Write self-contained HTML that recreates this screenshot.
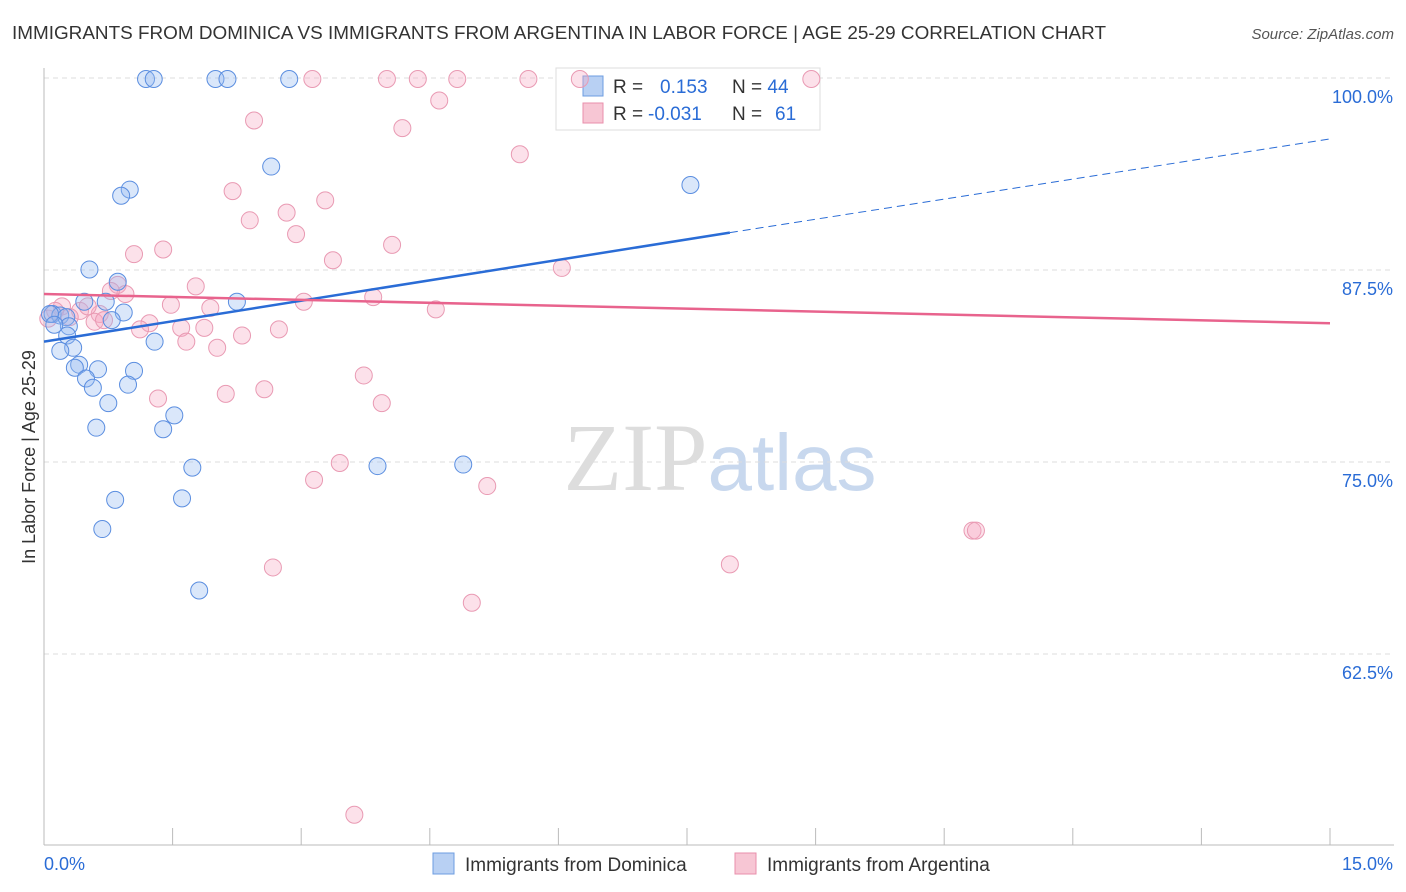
<!DOCTYPE html>
<html><head><meta charset="utf-8"><style>
body{margin:0;background:#fff;font-family:"Liberation Sans",sans-serif}
svg{display:block}
</style></head><body>
<svg id="c" width="1406" height="892" xmlns="http://www.w3.org/2000/svg">
<text x="12" y="39" font-size="18" fill="#333" textLength="1094" lengthAdjust="spacingAndGlyphs">IMMIGRANTS FROM DOMINICA VS IMMIGRANTS FROM ARGENTINA IN LABOR FORCE | AGE 25-29 CORRELATION CHART</text>
<text x="1394" y="39" font-size="15" fill="#555" font-style="italic" text-anchor="end">Source: ZipAtlas.com</text>
<text x="720" y="490" font-size="96" fill="#ddd" text-anchor="middle" font-family="Liberation Serif,serif">ZIP<tspan fill="#c8d8ee" font-family="Liberation Sans,sans-serif" font-size="80">atlas</tspan></text>
<g id="grid"></g>
<g id="axes"></g>
<g>
<rect x="556" y="68" width="264" height="62" fill="#fff" stroke="#ddd"/>
<rect x="583" y="76" width="20" height="20" fill="#b8d0f3" stroke="#6d9de0"/>
<text x="613" y="93" font-size="19" fill="#333">R = <tspan fill="#2a6cd6" x="660">0.153</tspan><tspan x="732">N = </tspan><tspan fill="#2a6cd6">44</tspan></text>
<rect x="583" y="103" width="20" height="20" fill="#f7c6d4" stroke="#e88fab"/>
<text x="613" y="120" font-size="19" fill="#333">R = <tspan fill="#2a6cd6" x="648">-0.031</tspan><tspan x="732">N = </tspan><tspan fill="#2a6cd6" x="775">61</tspan></text>
</g>
<g id="pts"></g>
<g id="lines"></g>
<text x="35" y="457" font-size="18" fill="#333" text-anchor="middle" transform="rotate(-90 35 457)">In Labor Force | Age 25-29</text>
<g>
<rect x="433" y="853" width="21" height="21" fill="#b8d0f3" stroke="#6d9de0"/>
<text x="465" y="871" font-size="19" fill="#333">Immigrants from Dominica</text>
<rect x="735" y="853" width="21" height="21" fill="#f7c6d4" stroke="#e88fab"/>
<text x="767" y="871" font-size="19" fill="#333">Immigrants from Argentina</text>
</g>
</svg>
<script>
const yTicks=[100,87.5,75,62.5];
const yTickLabels=["100.0%","87.5%","75.0%","62.5%"];
const xEndLabels=["0.0%","15.0%"];
const domX=[[11.9,100],[12.8,100],[20.0,100],[21.4,100],[28.6,100],[26.5,94.3],[10.0,92.8],[9.0,92.4],[75.4,93.1],[5.3,87.6],[8.6,86.8],[4.7,85.5],[7.2,85.5],[22.5,85.5],[9.3,84.8],[1.0,84.7],[1.9,84.6],[2.6,84.5],[7.9,84.3],[2.9,83.9],[2.7,83.3],[12.9,82.9],[3.4,82.5],[1.9,82.3],[4.1,81.4],[3.6,81.2],[6.3,81.1],[10.5,81.0],[4.9,80.5],[9.8,80.1],[5.7,79.9],[7.5,78.9],[15.2,78.1],[6.1,77.3],[13.9,77.2],[17.3,74.7],[38.9,74.8],[48.9,74.9],[8.3,72.6],[16.1,72.7],[6.8,70.7],[18.1,66.7],[0.7,84.7],[1.2,84.0]];
const argX=[[31.3,100],[40.0,100],[43.6,100],[48.2,100],[56.5,100],[62.5,100],[89.5,100],[46.1,98.6],[24.5,97.3],[41.8,96.8],[55.5,95.1],[22.0,92.7],[28.3,91.3],[32.8,92.1],[24.0,90.8],[29.4,89.9],[40.6,89.2],[13.9,88.9],[10.5,88.6],[33.7,88.2],[60.4,87.7],[17.7,86.5],[8.6,86.6],[9.5,86.0],[7.8,86.2],[38.4,85.8],[30.3,85.5],[14.8,85.3],[19.4,85.1],[45.7,85.0],[2.1,85.2],[4.2,84.9],[6.5,84.7],[5.9,84.2],[12.3,84.1],[11.2,83.7],[16.0,83.8],[18.7,83.8],[27.4,83.7],[23.1,83.3],[16.6,82.9],[20.2,82.5],[37.3,80.7],[13.3,79.2],[21.2,79.5],[25.7,79.8],[39.4,78.9],[34.5,75.0],[31.5,73.9],[51.7,73.5],[108.3,70.6],[108.7,70.6],[26.7,68.2],[80.0,68.4],[49.9,65.9],[36.2,52.1],[0.5,84.4],[1.3,84.9],[3.0,84.5],[5.1,85.2],[7.0,84.3]];
const regDom=[[0,82.9],[80,90.0],[150,96.1]];
const regArg=[[0,86.0],[150,84.1]];
const NS="http://www.w3.org/2000/svg";
const X=v=>44+v/150*1286, Y=v=>79+(100-v)*15.36;
function mk(t,a,p){const e=document.createElementNS(NS,t);for(const k in a)e.setAttribute(k,a[k]);document.getElementById(p).appendChild(e);return e;}
yTicks.forEach((t,i)=>{
 const l=mk('line',{x1:44,x2:1394,y1:Y(t)-1,y2:Y(t)-1,stroke:'#ddd','stroke-dasharray':'5,4'},'grid');
 
 
 const tx=mk('text',{x:1393,y:Y(t)+24,'font-size':18,fill:'#2a6cd6','text-anchor':'end'},'axes');tx.textContent=yTickLabels[i];
 
 
});
const ax=mk('line',{x1:44,x2:44,y1:68,y2:845,stroke:'#bbb'},'axes');


const bx=mk('line',{x1:44,x2:1394,y1:845,y2:845,stroke:'#bbb'},'axes');


for(let i=0;i<=10;i++){const t=mk('line',{x1:X(i*15),x2:X(i*15),y1:828,y2:845,stroke:'#bbb'},'axes');
 
 }
[[0,'start',44],[1,'end',1393]].forEach(([i,a,x])=>{const t=mk('text',{x:x,y:870,'font-size':18,fill:'#2a6cd6','text-anchor':a},'axes');t.textContent=xEndLabels[i];
 
 });
argX.forEach(p=>{const c=mk('circle',{cx:X(p[0]),cy:Y(p[1]),r:8.5,fill:'rgba(245,170,195,0.35)',stroke:'#e99ab3','stroke-width':1},'pts');
 
 });
domX.forEach(p=>{const c=mk('circle',{cx:X(p[0]),cy:Y(p[1]),r:8.5,fill:'rgba(150,185,240,0.35)',stroke:'#5b8ee0','stroke-width':1},'pts');
 
 });
let l1=mk('line',{x1:X(regDom[0][0]),y1:Y(regDom[0][1]),x2:X(regDom[1][0]),y2:Y(regDom[1][1]),stroke:'#2a6cd6','stroke-width':2.5},'lines');


let l2=mk('line',{x1:X(regDom[1][0]),y1:Y(regDom[1][1]),x2:X(regDom[2][0]),y2:Y(regDom[2][1]),stroke:'#2a6cd6','stroke-width':1,'stroke-dasharray':'8,5'},'lines');


let l3=mk('line',{x1:X(regArg[0][0]),y1:Y(regArg[0][1]),x2:X(regArg[1][0]),y2:Y(regArg[1][1]),stroke:'#e8638d','stroke-width':2.5},'lines');


</script>
</body></html>
